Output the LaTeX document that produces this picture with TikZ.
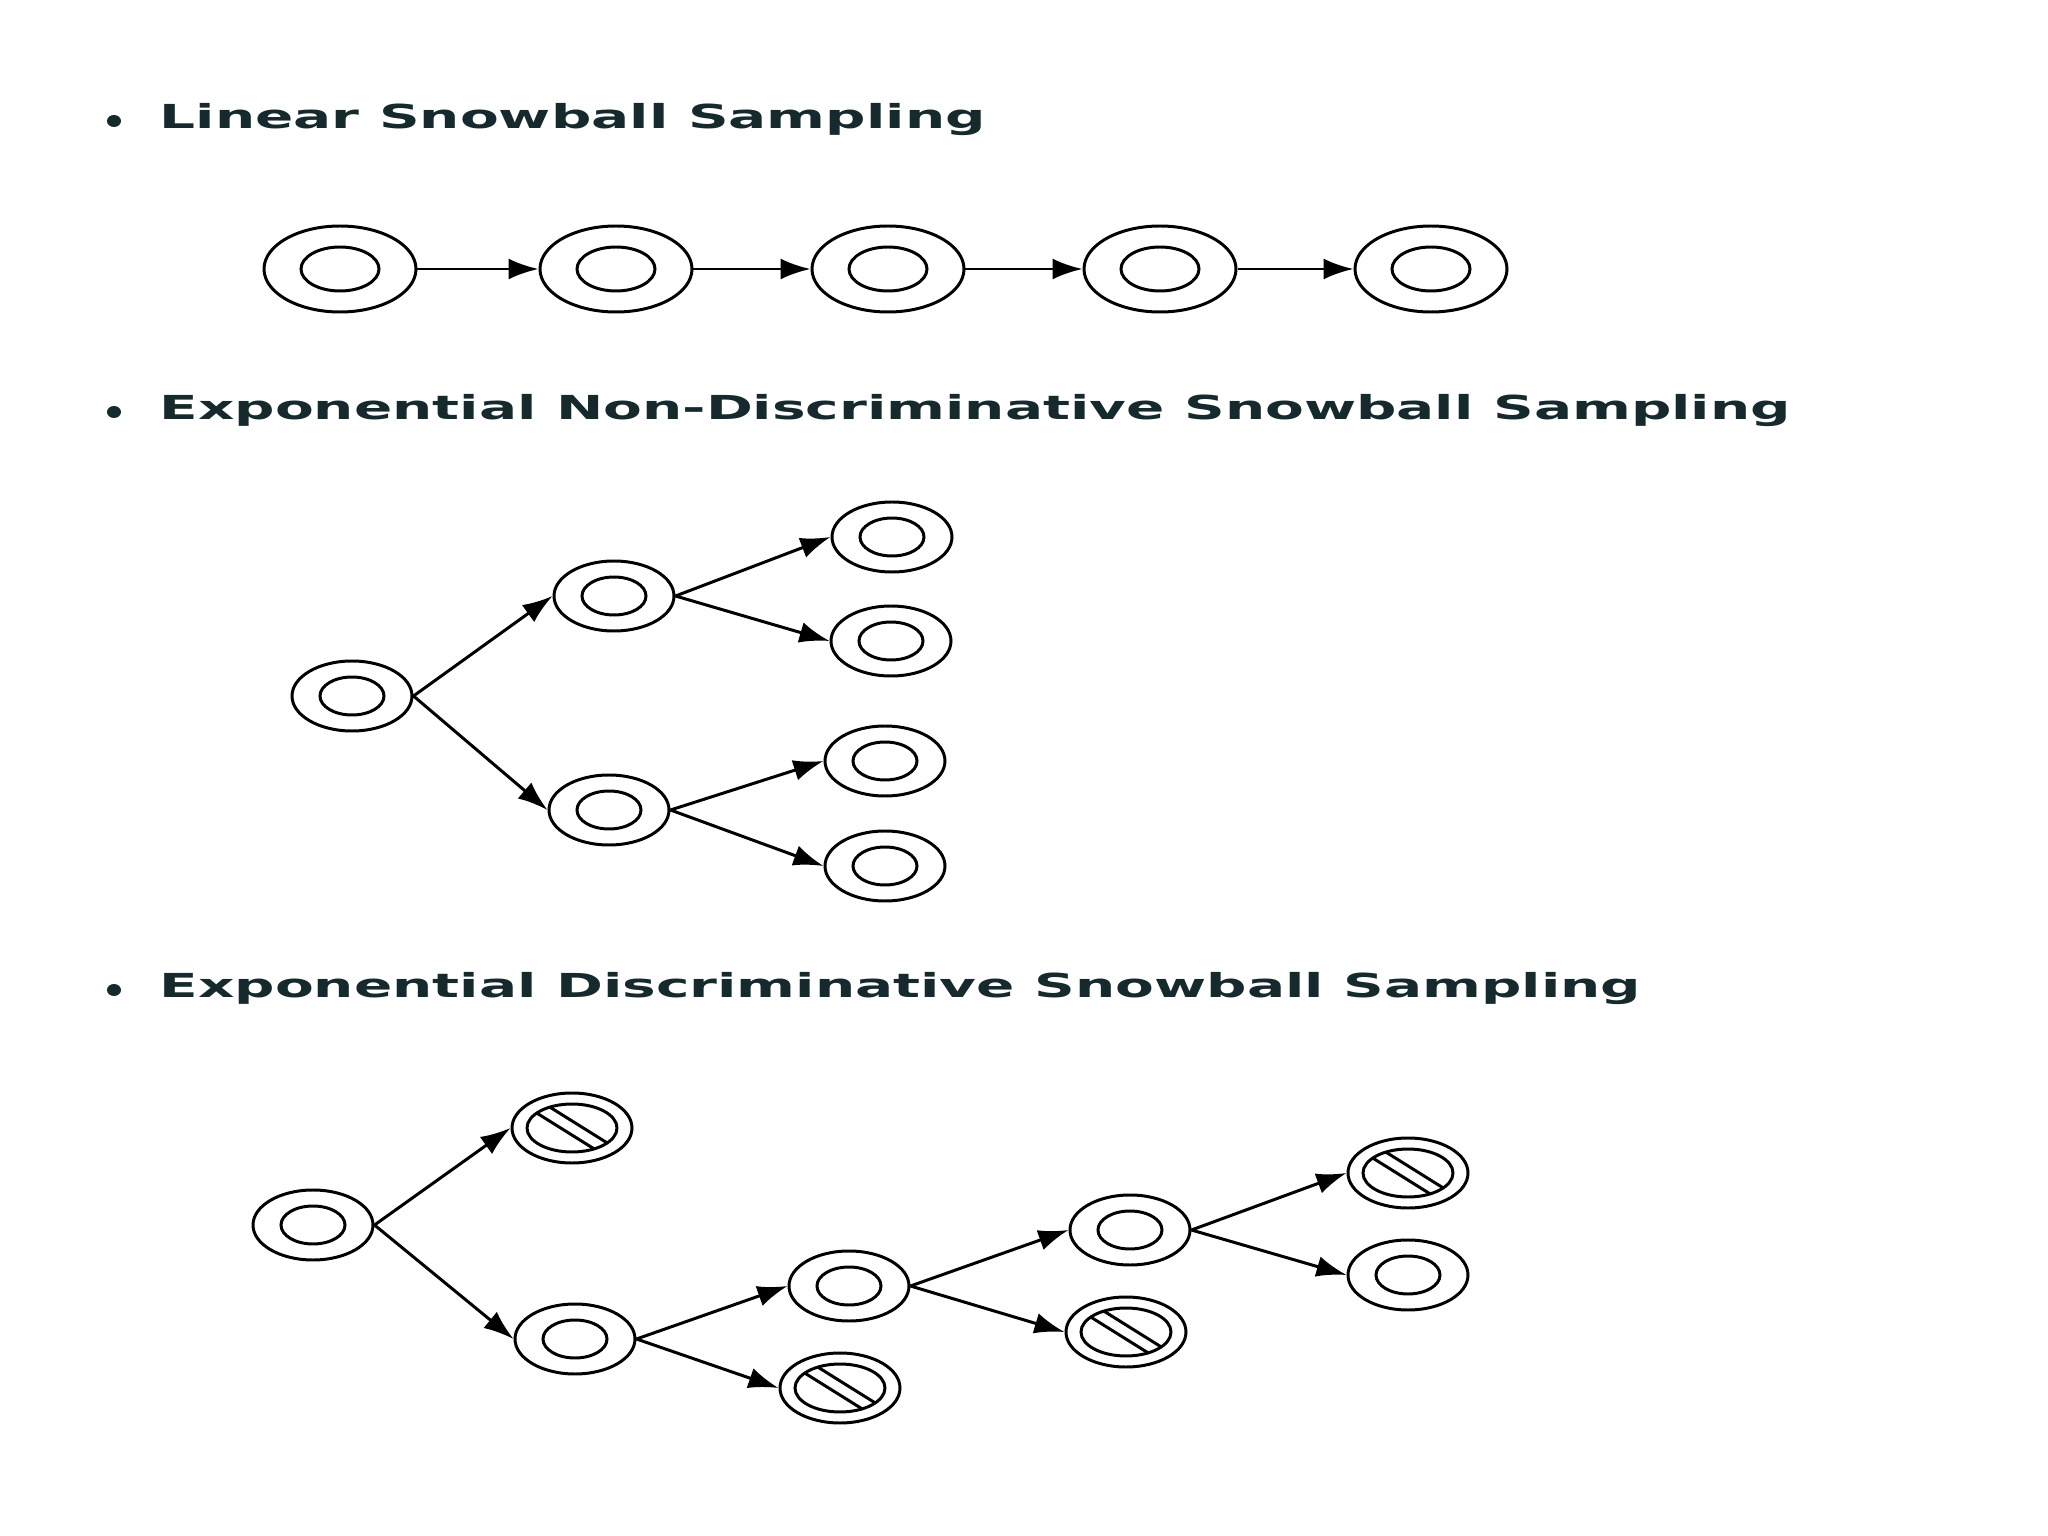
\documentclass[tikz,border=0pt]{standalone}
\usepackage{fontspec}
\newfontfamily\titlefont{DejaVu Sans}[FakeStretch=1.71]
\usetikzlibrary{arrows.meta,shapes.geometric}
\definecolor{titleink}{RGB}{22,42,45}

\tikzset{
  title/.style={anchor=base west,inner sep=0pt,text=titleink,
    font=\titlefont\bfseries\fontsize{9.4pt}{11pt}\selectfont},
  snowbig/.style={ellipse,draw,line width=0.85pt,inner sep=0pt,
    minimum width=1.52cm,minimum height=0.86cm,
    path picture={\draw[line width=0.85pt] (path picture bounding box.center) ellipse (0.39cm and 0.22cm);}},
  snow/.style={ellipse,draw,line width=0.85pt,inner sep=0pt,
    minimum width=1.2cm,minimum height=0.7cm,
    path picture={\draw[line width=0.85pt] (path picture bounding box.center) ellipse (0.32cm and 0.19cm);}},
  crossed/.style={ellipse,draw,line width=0.85pt,inner sep=0pt,
    minimum width=1.2cm,minimum height=0.7cm,
    path picture={
      \draw[line width=0.85pt] (path picture bounding box.center) ellipse (0.45cm and 0.24cm);
      \clip (path picture bounding box.center) ellipse (0.45cm and 0.24cm);
      \draw[line width=0.85pt] (path picture bounding box.center) ++(58:0.06) ++(148:1) -- ++(-32:2);
      \draw[line width=0.85pt] (path picture bounding box.center) ++(-122:0.06) ++(148:1) -- ++(-32:2);}},
  edge/.style={->,line width=0.85pt}
}

\begin{document}
\begin{tikzpicture}[>={Latex[length=3mm,width=2.1mm]}]
    \useasboundingbox[fill=white] (0,0) rectangle (20.48,-15.36);
    % titles
    \node[title] (t1) at (1.59,-1.29) {Linear Snowball Sampling};
    \node[title] (t2) at (1.59,-4.20) {Exponential Non-Discriminative Snowball Sampling};
    \node[title] (t3) at (1.59,-9.97) {Exponential Discriminative Snowball Sampling};
    \fill[titleink] (1.14,-1.21) ellipse (0.07 and 0.06);
    \fill[titleink] (1.14,-4.12) ellipse (0.07 and 0.06);
    \fill[titleink] (1.14,-9.90) ellipse (0.07 and 0.06);
    % linear chain
    \node[snowbig] (l1) at (3.40,-2.69) {};
    \node[snowbig] (l2) at (6.16,-2.69) {};
    \node[snowbig] (l3) at (8.88,-2.69) {};
    \node[snowbig] (l4) at (11.60,-2.69) {};
    \node[snowbig] (l5) at (14.31,-2.69) {};
    \draw[edge] (l1) -- (l2);
    \draw[edge] (l2) -- (l3);
    \draw[edge] (l3) -- (l4);
    \draw[edge] (l4) -- (l5);
    % non discriminative tree
    \node[snow] (r2) at (3.52,-6.96) {};
    \node[snow] (a2) at (6.14,-5.96) {};
    \node[snow] (b2) at (6.09,-8.10) {};
    \node[snow] (a21) at (8.92,-5.37) {};
    \node[snow] (a22) at (8.91,-6.41) {};
    \node[snow] (b21) at (8.85,-7.61) {};
    \node[snow] (b22) at (8.85,-8.66) {};
    \draw[edge] (r2.east) -- (a2.west);
    \draw[edge] (r2.east) -- (b2.west);
    \draw[edge] (a2.east) -- (a21.west);
    \draw[edge] (a2.east) -- (a22.west);
    \draw[edge] (b2.east) -- (b21.west);
    \draw[edge] (b2.east) -- (b22.west);
    % discriminative tree
    \node[snow] (r3) at (3.13,-12.25) {};
    \node[crossed] (c1) at (5.72,-11.28) {};
    \node[snow] (d3) at (5.75,-13.39) {};
    \node[snow] (e3) at (8.49,-12.86) {};
    \node[crossed] (c2) at (8.40,-13.88) {};
    \node[snow] (g3) at (11.30,-12.30) {};
    \node[crossed] (c3) at (11.26,-13.32) {};
    \node[crossed] (c4) at (14.08,-11.73) {};
    \node[snow] (j3) at (14.08,-12.75) {};
    \draw[edge] (r3.east) -- (c1.west);
    \draw[edge] (r3.east) -- (d3.west);
    \draw[edge] (d3.east) -- (e3.west);
    \draw[edge] (d3.east) -- (c2.west);
    \draw[edge] (e3.east) -- (g3.west);
    \draw[edge] (e3.east) -- (c3.west);
    \draw[edge] (g3.east) -- (c4.west);
    \draw[edge] (g3.east) -- (j3.west);
\end{tikzpicture}
\end{document}
